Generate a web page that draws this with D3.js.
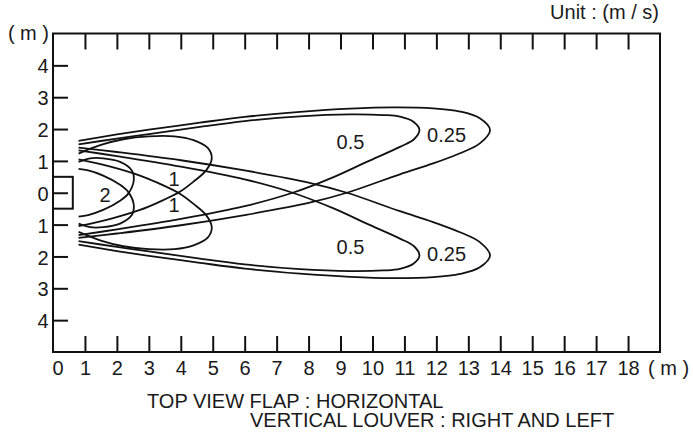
<!DOCTYPE html>
<html>
<head>
<meta charset="utf-8">
<script src="https://cdn.jsdelivr.net/npm/d3@7/dist/d3.min.js"></script>
<style>
  body { margin: 0; background: #fff; }
  svg text { font-family: "Liberation Sans", Arial, Helvetica, sans-serif; fill: #1a1a1a; }
</style>
</head>
<body>
<svg id="chart" width="693" height="440"></svg>
<script>
// ---------- data (metres) ----------
const xTickValues = [0,1,2,3,4,5,6,7,8,9,10,11,12,13,14,15,16,17,18];
const yTickValues = [-4,-3,-2,-1,0,1,2,3,4];
const yTickLabels = ["4","3","2","1","0","1","2","3","4"];

// outlet box (x0, x1, y0, y1)
const outlet = [0, 0.62, -0.5, 0.5];

// lobes directed upward (louver left)
const up025 = [[0.8,1.63],[2,1.83],[3,1.98],[4.6,2.2],[6,2.38],[7.73,2.54],[9.3,2.64],[10.65,2.68],[11.9,2.65],[12.74,2.55],[13.36,2.34],[13.68,1.97],[13.36,1.55],[12.74,1.24],[11.9,0.92],[10.86,0.58],[9.2,0.0],[8,-0.32],[6,-0.7],[4,-1.02],[2,-1.28],[0.8,-1.42]];
const up05  = [[0.8,1.52],[2,1.7],[3,1.84],[4.6,2.07],[6,2.25],[7.73,2.4],[9.3,2.46],[10.34,2.44],[10.86,2.39],[11.28,2.23],[11.47,1.97],[11.3,1.68],[10.86,1.44],[9.82,0.97],[8.8,0.5],[7.5,0.0],[6,-0.42],[4,-0.82],[2,-1.15],[0.8,-1.33]];
const up1   = [[0.8,1.23],[1.5,1.5],[2.2,1.68],[3,1.77],[3.8,1.77],[4.4,1.65],[4.85,1.4],[4.97,1.08],[4.8,0.71],[4.4,0.35],[3.97,0.03],[3.3,-0.3],[2.72,-0.54],[1.8,-0.82],[0.8,-1.05]];
const up2   = [[0.8,0.97],[1.16,1.08],[1.57,1.08],[2.1,0.97],[2.46,0.71],[2.53,0.4],[2.36,-0.02],[2.1,-0.25],[1.57,-0.54],[1.1,-0.7],[0.8,-0.75]];

// lobes directed downward (louver right)
const dn025 = [[0.8,-1.63],[2,-1.83],[3,-1.98],[4.6,-2.2],[6,-2.38],[7.73,-2.54],[9.3,-2.64],[10.65,-2.68],[11.9,-2.65],[12.74,-2.55],[13.36,-2.34],[13.68,-1.97],[13.36,-1.55],[12.74,-1.24],[11.9,-0.92],[10.86,-0.58],[9.2,0.0],[8,0.32],[6,0.7],[4,1.02],[2,1.28],[0.8,1.42]];
const dn05  = [[0.8,-1.52],[2,-1.7],[3,-1.84],[4.6,-2.07],[6,-2.25],[7.73,-2.4],[9.3,-2.46],[10.34,-2.44],[10.86,-2.39],[11.28,-2.23],[11.47,-1.97],[11.3,-1.68],[10.86,-1.44],[9.82,-0.97],[8.8,-0.5],[7.5,0.0],[6,0.42],[4,0.82],[2,1.15],[0.8,1.33]];
const dn1   = [[0.8,-1.23],[1.5,-1.5],[2.2,-1.68],[3,-1.77],[3.8,-1.77],[4.4,-1.65],[4.85,-1.4],[4.97,-1.08],[4.8,-0.71],[4.4,-0.35],[3.97,-0.03],[3.3,0.3],[2.72,0.54],[1.8,0.82],[0.8,1.05]];
const dn2   = [[0.8,-0.97],[1.16,-1.08],[1.57,-1.08],[2.1,-0.97],[2.46,-0.71],[2.53,-0.4],[2.36,0.02],[2.1,0.25],[1.57,0.54],[1.1,0.7],[0.8,0.75]];

const lobes = [up025, up05, up1, up2, dn025, dn05, dn1, dn2];

// velocity labels (text, x, y in metres)
const labelTexts = ["2","1","1","0.5","0.25","0.5","0.25"];
const labelX     = [1.63, 3.79, 3.79, 9.31, 12.32, 9.31, 12.32];
const labelY     = [-0.07, 0.45, -0.38, 1.59, 1.83, -1.70, -1.91];

// ---------- drawing ----------
const svg = d3.select("#chart");
const x = d3.scaleLinear().domain([0, 19]).range([53, 660]);
const y = d3.scaleLinear().domain([-5, 5]).range([352, 33.5]);

const FS = 20;

// frame
svg.append("rect")
  .attr("x", x(0)).attr("y", y(5))
  .attr("width", x(19) - x(0)).attr("height", y(-5) - y(5))
  .attr("fill", "none").attr("stroke", "#111").attr("stroke-width", 2);

// bottom axis (inward ticks)
const gB = svg.append("g").attr("transform", `translate(0,${y(-5)})`)
  .call(d3.axisBottom(x).tickValues(xTickValues).tickSize(-16).tickSizeOuter(0).tickPadding(9).tickFormat(d3.format("d")));
gB.select(".domain").remove();
gB.selectAll(".tick line").attr("stroke", "#111").attr("stroke-width", 2);
gB.selectAll(".tick text").attr("font-size", FS).attr("fill", "#1a1a1a")
  .attr("dx", d => d === 0 ? 4.5 : 0);
gB.selectAll(".tick").filter(d => d === 0).select("line").remove();

// top axis (inward ticks, no labels)
const gT = svg.append("g").attr("transform", `translate(0,${y(5)})`)
  .call(d3.axisTop(x).tickValues(xTickValues.filter(d => d > 0)).tickSize(-16).tickSizeOuter(0).tickFormat(""));
gT.select(".domain").remove();
gT.selectAll(".tick line").attr("stroke", "#111").attr("stroke-width", 2);

// left axis (inward ticks)
const gL = svg.append("g").attr("transform", `translate(${x(0)},0)`)
  .call(d3.axisLeft(y).tickValues(yTickValues).tickSize(-15).tickSizeOuter(0).tickPadding(4.5)
    .tickFormat((d, i) => yTickLabels[i]));
gL.select(".domain").remove();
gL.selectAll(".tick line").attr("stroke", "#111").attr("stroke-width", 2);
gL.selectAll(".tick text").attr("font-size", FS).attr("fill", "#1a1a1a").attr("dy", "0.38em");

// outlet
svg.append("rect")
  .attr("x", x(outlet[0])).attr("y", y(outlet[3]))
  .attr("width", x(outlet[1]) - x(outlet[0])).attr("height", y(outlet[2]) - y(outlet[3]))
  .attr("fill", "none").attr("stroke", "#111").attr("stroke-width", 2);

// lobes
const line = d3.line().x(d => x(d[0])).y(d => y(d[1])).curve(d3.curveCatmullRom.alpha(0.5));
svg.append("g").selectAll("path").data(lobes).join("path")
  .attr("d", line)
  .attr("fill", "none").attr("stroke", "#111").attr("stroke-width", 1.8);

// velocity labels
svg.append("g").selectAll("text").data(labelTexts).join("text")
  .attr("x", (d, i) => x(labelX[i])).attr("y", (d, i) => y(labelY[i]))
  .attr("dy", "0.36em").attr("text-anchor", "middle").attr("font-size", FS)
  .text(d => d);

// unit labels
svg.append("text").attr("x", 49).attr("y", 40).attr("text-anchor", "end").attr("font-size", FS).text("( m )");
svg.append("text").attr("x", 648).attr("y", 375).attr("text-anchor", "start").attr("font-size", FS).text("( m )");
svg.append("text").attr("x", 659).attr("y", 19).attr("text-anchor", "end").attr("font-size", FS).text("Unit : (m / s)");

// captions
svg.append("text").attr("x", 147).attr("y", 408).attr("font-size", FS).text("TOP VIEW FLAP : HORIZONTAL");
svg.append("text").attr("x", 250).attr("y", 427).attr("font-size", FS).text("VERTICAL LOUVER : RIGHT AND LEFT");
</script>
</body>
</html>
